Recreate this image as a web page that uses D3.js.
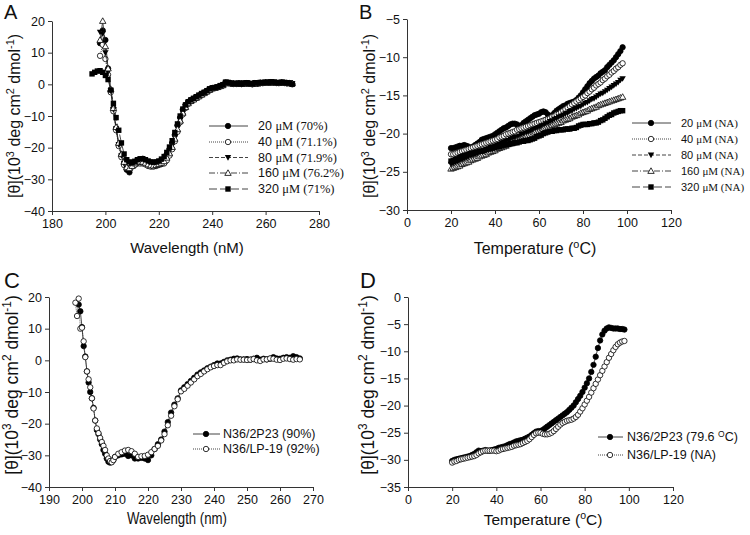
<!DOCTYPE html>
<html><head><meta charset="utf-8">
<script src="https://cdn.jsdelivr.net/npm/d3@7/dist/d3.min.js"></script>
<style>body{margin:0;background:#fff} text{font-family:"Liberation Sans",Arial,sans-serif;fill:#111}</style>
</head><body><svg id="c" width="750" height="535"></svg>
<script>
// ---------------- DATA ----------------
// Panel A: CD spectra at different concentrations
const wavelengthA = [195,196,197,198,199,200,201,202,203,204,205,206,207,208,209,210,211,212,213,214,215,216,217,218,219,220,221,222,223,224,225,226,227,228,229,230,231,232,233,234,235,236,237,238,239,240,241,242,243,244,245,246,247,248,249,250,251,252,253,254,255,256,257,258,259,260,261,262,263,264,265,266,267,268,269,270];
const a20 = [null,null,null,13,17,14,5,-2,-7.5,-14,-19,-22.5,-25,-27,-27.8,-25.5,-24.5,-24,-23.8,-23.5,-24,-25.5,-25,-25,-24.8,-24.5,-24,-23.5,-22,-20.5,-18.5,-16,-13,-10.5,-8,-6.5,-5.6,-5,-4.6,-4.1,-3.6,-3.1,-2.6,-2.2,-1.6,-1.2,-1.1,-0.9,-0.5,-0.2,0.6,0.5,0.3,0.2,0.2,0.3,0.1,0.3,0.4,0.2,0.1,0.4,0.3,0.5,0.4,0.6,0.5,0.7,0.6,0.5,0.4,0.6,0.5,0.4,0.3,0.0];
const a40 = [null,null,null,9,12.5,8,3,-2.5,-8.5,-14.5,-19.5,-23,-25.5,-26.5,-26.5,-26,-25.5,-25,-25,-25,-25.3,-25.8,-26,-26,-25.8,-25.5,-25.2,-25,-24,-22.5,-20.5,-18,-15,-12,-9.5,-7.5,-6.2,-5.4,-4.9,-4.4,-3.9,-3.4,-2.9,-2.4,-1.9,-1.4,-1.2,-1.0,-0.7,-0.4,0.2,0.4,0.2,0.1,0.1,0.2,0.1,0.2,0.3,0.2,0.0,0.3,0.2,0.4,0.4,0.5,0.5,0.6,0.5,0.4,0.4,0.5,0.4,0.3,0.4,0.2];
const a80 = [null,null,null,16.5,16,10,4,-2,-8,-14,-19,-22.5,-25,-26.5,-26.8,-25.5,-24.8,-24.3,-24,-24,-24.3,-24.8,-25.2,-25.3,-25.2,-24.8,-24.3,-23.8,-22.5,-21,-19,-16.5,-13.5,-11,-8.5,-7,-5.9,-5.2,-4.7,-4.2,-3.7,-3.2,-2.7,-2.3,-1.7,-1.3,-1.1,-0.9,-0.6,-0.3,0.4,0.5,0.3,0.2,0.2,0.3,0.2,0.3,0.3,0.2,0.1,0.3,0.3,0.5,0.4,0.5,0.6,0.6,0.5,0.5,0.5,0.5,0.5,0.4,0.4,0.2];
const a160 = [null,null,null,14,20,12,5,-1.5,-7.5,-13.5,-18.5,-22,-24.5,-26.2,-26.5,-25.8,-25,-24.6,-24.4,-24.5,-24.8,-25.3,-25.6,-25.7,-25.5,-25.2,-24.8,-24.3,-23.2,-21.8,-19.8,-17.2,-14.2,-11.5,-9,-7.2,-6,-5.3,-4.8,-4.3,-3.8,-3.3,-2.8,-2.3,-1.8,-1.3,-1.1,-0.9,-0.6,-0.3,0.3,0.4,0.3,0.2,0.1,0.2,0.2,0.2,0.3,0.2,0.1,0.3,0.2,0.4,0.5,0.5,0.5,0.6,0.6,0.5,0.4,0.5,0.4,0.4,0.3,0.3];
const a320 = [3.3,3.8,4.2,4.3,3.8,2.8,1.5,-1.8,-6,-10.5,-14.5,-18.5,-22,-23.8,-24.5,-24.8,-24.3,-23.8,-23.5,-23.5,-23.8,-24.2,-24.5,-24.6,-24.5,-24.2,-23.6,-22.8,-21.5,-19.8,-17.8,-15.2,-12.5,-10,-7.8,-6.5,-5.5,-4.9,-4.4,-3.9,-3.4,-2.9,-2.5,-2.0,-1.4,-1.1,-1.0,-0.8,-0.4,-0.1,0.7,0.6,0.4,0.3,0.3,0.4,0.3,0.4,0.5,0.3,0.2,0.5,0.4,0.6,0.5,0.7,0.6,0.8,0.7,0.6,0.5,0.7,0.6,0.5,0.4,0.1];
const legendA = ["20 |\u03bcM (70%)","40 |\u03bcM (71.1%)","80 |\u03bcM (71.9%)","160 |\u03bcM (76.2%)","320 |\u03bcM (71%)"];

// Panel B: thermal melts at different concentrations
const temperature = [20,21,22,23,24,25,26,27,28,29,30,31,32,33,34,35,36,37,38,39,40,41,42,43,44,45,46,47,48,49,50,51,52,53,54,55,56,57,58,59,60,61,62,63,64,65,66,67,68,69,70,71,72,73,74,75,76,77,78,79,80,81,82,83,84,85,86,87,88,89,90,91,92,93,94,95,96,97,98];
const b20 = [-21.9,-21.9,-21.8,-21.7,-21.6,-21.6,-21.5,-21.6,-21.7,-21.9,-21.7,-21.5,-21.3,-21.1,-20.8,-20.7,-20.6,-20.5,-20.4,-20.3,-20.1,-19.9,-19.7,-19.5,-19.3,-19.2,-19.0,-18.8,-18.7,-18.7,-18.8,-19.0,-18.9,-18.6,-18.4,-18.2,-18.0,-17.8,-17.6,-17.5,-17.4,-17.2,-17.1,-17.2,-17.5,-17.7,-17.6,-17.3,-17.0,-16.8,-16.6,-16.4,-16.3,-16.1,-16.0,-15.9,-15.8,-15.6,-15.3,-15.0,-14.6,-14.2,-13.8,-13.4,-13.1,-12.8,-12.6,-12.4,-12.1,-11.9,-11.7,-11.3,-11.0,-10.7,-10.4,-10.0,-9.6,-9.2,-8.7];
const b40 = [-22.7,-22.7,-22.6,-22.5,-22.4,-22.3,-22.2,-22.1,-22.0,-21.9,-21.8,-21.7,-21.6,-21.5,-21.4,-21.3,-21.2,-21.1,-21.0,-20.9,-20.8,-20.7,-20.5,-20.4,-20.3,-20.1,-20.0,-19.9,-19.8,-19.7,-19.5,-19.4,-19.3,-19.2,-19.1,-19.0,-18.9,-18.8,-18.7,-18.6,-18.5,-18.4,-18.3,-18.2,-18.1,-18.0,-17.8,-17.7,-17.5,-17.4,-17.2,-17.0,-16.8,-16.6,-16.4,-16.2,-16.0,-15.8,-15.6,-15.4,-15.2,-15.0,-14.7,-14.5,-14.2,-14.0,-13.7,-13.5,-13.3,-13.0,-12.8,-12.5,-12.3,-12.0,-11.8,-11.5,-11.3,-11.0,-10.8];
const b80 = [-24.0,-23.9,-23.8,-23.7,-23.5,-23.4,-23.3,-23.2,-23.0,-22.9,-22.8,-22.7,-22.6,-22.4,-22.3,-22.2,-22.1,-22.0,-21.8,-21.7,-21.6,-21.5,-21.4,-21.2,-21.1,-21.0,-20.9,-20.7,-20.6,-20.5,-20.4,-20.3,-20.1,-20.0,-19.9,-19.8,-19.7,-19.5,-19.4,-19.3,-19.2,-19.0,-18.9,-18.7,-18.6,-18.4,-18.3,-18.1,-18.0,-17.8,-17.7,-17.6,-17.4,-17.3,-17.1,-17.0,-16.8,-16.7,-16.5,-16.4,-16.2,-16.0,-15.9,-15.7,-15.5,-15.4,-15.2,-15.0,-14.8,-14.7,-14.5,-14.3,-14.1,-13.9,-13.7,-13.5,-13.3,-13.0,-12.8];
const b160 = [-24.6,-24.5,-24.4,-24.3,-24.2,-24.0,-23.9,-23.8,-23.7,-23.5,-23.4,-23.3,-23.2,-23.0,-22.9,-22.8,-22.7,-22.5,-22.4,-22.3,-22.2,-22.0,-21.9,-21.8,-21.7,-21.6,-21.4,-21.3,-21.2,-21.1,-20.9,-20.8,-20.7,-20.6,-20.4,-20.3,-20.2,-20.1,-19.9,-19.8,-19.7,-19.6,-19.4,-19.3,-19.2,-19.1,-18.9,-18.8,-18.7,-18.6,-18.5,-18.3,-18.2,-18.1,-18.0,-17.8,-17.7,-17.6,-17.5,-17.3,-17.2,-17.1,-17.0,-16.8,-16.7,-16.6,-16.5,-16.3,-16.2,-16.1,-16.0,-15.9,-15.8,-15.7,-15.6,-15.5,-15.4,-15.3,-15.2];
const b320 = [-23.6,-23.5,-23.4,-23.3,-23.1,-23.0,-22.9,-22.8,-22.7,-22.6,-22.6,-22.5,-22.4,-22.3,-22.3,-22.2,-22.1,-22.0,-22.0,-21.9,-21.8,-21.7,-21.7,-21.6,-21.5,-21.5,-21.4,-21.3,-21.3,-21.2,-21.2,-21.1,-21.0,-21.0,-20.9,-20.9,-20.8,-20.7,-20.6,-20.4,-20.3,-20.2,-20.0,-19.9,-19.8,-19.7,-19.7,-19.6,-19.6,-19.5,-19.5,-19.5,-19.4,-19.4,-19.4,-19.3,-19.3,-19.2,-19.0,-18.9,-18.8,-18.8,-18.8,-18.7,-18.7,-18.6,-18.6,-18.5,-18.3,-18.2,-18.0,-17.8,-17.6,-17.5,-17.3,-17.2,-17.1,-17.0,-17.0];
const legendB = ["20 |\u03bcM (NA)","40 |\u03bcM (NA)","80 |\u03bcM (NA)","160 |\u03bcM (NA)","320 |\u03bcM (NA)"];

// Panel C: CD spectra of two complexes
const wavelengthC = [198,198.5,199,199.5,200,200.5,201,201.5,202,202.5,203,203.5,204,204.5,205,205.5,206,206.5,207,207.5,208,208.5,209,209.5,210,211,212,213,214,215,216,217,218,219,220,221,222,223,224,225,226,227,228,229,230,231,232,233,234,235,236,237,238,239,240,241,242,243,244,245,246,247,248,249,250,251,252,253,254,255,256,257,258,259,260,261,262,263,264,265,266];
const c2P23 = [null,null,17.6,15.5,10.5,4.5,1.2,-3.5,-7,-10,-12,-15,-19,-22,-23.3,-25,-26.5,-28.3,-29.5,-31,-32,-32.3,-32,-31.5,-30.5,-30,-29.7,-29.5,-30.2,-30,-31,-31,-30.8,-31,-31.5,-30,-28,-26.5,-25,-22.5,-19.5,-16.5,-14,-12,-9.5,-8.5,-7.5,-6.5,-5.5,-4.5,-3.8,-3.2,-2.5,-2,-1.5,-1,-1,-0.5,0,0.2,0.5,0.6,0.3,0.3,0.4,0.2,0.5,0.8,0.2,0.5,0.3,0.5,1.0,0.6,0.5,0.8,1.0,0.8,1.3,1.0,0.6];
const cLP19 = [18.2,14,19.5,10,10.3,6,1,-3.5,-6,-8.5,-12,-15.2,-19,-21.5,-23,-24.5,-25.8,-27,-28.3,-30,-31,-31.8,-32.2,-31.5,-30.5,-29.5,-29,-28.5,-28.3,-28.7,-29.5,-30.5,-30.3,-30.2,-29.8,-29,-28,-27,-25.3,-23.3,-20.5,-17.5,-14.5,-12.3,-9.8,-9,-8,-7,-6,-5,-4.3,-3.5,-2.8,-2.2,-1.8,-1.5,-1.5,-0.8,-0.3,0,0,0.3,0.2,0.2,0.1,0.2,0.4,0,-0.2,0.3,0.3,0.6,0.5,0.2,0.1,0.5,0.6,0.4,0.2,0.4,0.3];
const legendC = ["N36/2P23 (90%)","N36/LP-19 (92%)"];

// Panel D: thermal melts of two complexes
const d2P23 = [-30.2,-30.0,-29.9,-29.8,-29.7,-29.6,-29.5,-29.4,-29.3,-29.1,-28.9,-28.6,-28.3,-28.4,-28.3,-28.2,-28.3,-28.3,-28.2,-28.1,-28.0,-27.8,-27.7,-27.6,-27.5,-27.3,-27.1,-27.0,-26.8,-26.6,-26.5,-26.4,-26.3,-26.1,-25.9,-25.7,-25.4,-25.1,-24.8,-24.7,-24.7,-24.5,-24.2,-23.9,-23.6,-23.3,-23.0,-22.7,-22.4,-22.1,-21.8,-21.5,-21.2,-20.8,-20.4,-20.0,-19.4,-18.8,-18.2,-17.5,-16.7,-15.9,-15.0,-13.8,-12.5,-11.0,-9.4,-8.0,-6.9,-6.2,-5.8,-5.6,-5.7,-5.8,-5.8,-5.8,-5.9,-5.9,-6.0];
const dLP19 = [-30.5,-30.3,-30.2,-30.0,-29.9,-29.8,-29.7,-29.6,-29.5,-29.4,-29.3,-29.1,-28.8,-28.6,-28.4,-28.3,-28.3,-28.3,-28.3,-28.3,-28.4,-28.3,-28.1,-28.0,-27.9,-27.8,-27.7,-27.6,-27.4,-27.3,-27.2,-27.1,-26.9,-26.7,-26.5,-26.2,-25.8,-25.4,-25.1,-25.0,-25.0,-25.2,-25.3,-25.3,-25.2,-25.0,-24.7,-24.3,-23.9,-23.5,-23.2,-23.0,-22.8,-22.7,-22.6,-22.4,-22.1,-21.7,-21.1,-20.5,-19.8,-19.1,-18.4,-17.6,-16.8,-16.0,-15.2,-14.4,-13.6,-12.8,-12.0,-11.2,-10.5,-9.8,-9.2,-8.7,-8.4,-8.2,-8.1];

// Ticks
const ticksAx = [180,200,220,240,260,280], ticksAy = [-40,-30,-20,-10,0,10,20];
const ticksBx = [0,20,40,60,80,100,120], ticksBy = [-30,-25,-20,-15,-10,-5];
const ticksCx = [190,200,210,220,230,240,250,260,270], ticksCy = [-40,-30,-20,-10,0,10,20];
const ticksDx = [0,20,40,60,80,100,120], ticksDy = [-35,-30,-25,-20,-15,-10,-5,0];

// ---------------- DRAWING ----------------
const svg = d3.select('#c');
const AX = '#333';

function marker(g, type, cx, cy) {
  const s = 2.7;
  if (type === 'circleF' || type === 'circleO') {
    g.append('circle').attr('cx', cx).attr('cy', cy).attr('r', s)
      .attr('fill', type === 'circleF' ? '#000' : '#fff').attr('stroke', '#000').attr('stroke-width', 0.8);
  } else if (type === 'squareF') {
    g.append('rect').attr('x', cx - s).attr('y', cy - s).attr('width', 2 * s).attr('height', 2 * s).attr('fill', '#000');
  } else if (type === 'triDownF') {
    g.append('path').attr('d', `M${cx - 3.2},${cy - 2.4}L${cx + 3.2},${cy - 2.4}L${cx},${cy + 3.2}Z`).attr('fill', '#000');
  } else if (type === 'triUpO') {
    g.append('path').attr('d', `M${cx - 3.2},${cy + 2.4}L${cx + 3.2},${cy + 2.4}L${cx},${cy - 3.2}Z`)
      .attr('fill', '#fff').attr('stroke', '#000').attr('stroke-width', 0.8);
  }
}

function rich(t, parts, fs) {
  parts.forEach(p => {
    if (p[1] === 'sup') {
      t.append('tspan').attr('font-size', fs * 0.68).attr('dy', -fs * 0.38).text(p[0]);
    } else if (p[1] === 'after') {
      t.append('tspan').attr('dy', fs * 0.38).text(p[0]);
    } else {
      t.append('tspan').text(p[0]);
    }
  });
}
const yTitleParts = [['[\u03b8](10'], ['3', 'sup'], [' deg cm', 'after'], ['2', 'sup'], [' dmol', 'after'], ['-1', 'sup'], [')', 'after']];
const tempParts = [['Temperature ('], ['o', 'sup'], ['C)', 'after']];

function panel(o) {
  const x = d3.scaleLinear().domain(o.xDomain).range(o.xRange);
  const y = d3.scaleLinear().domain(o.yDomain).range(o.yRange);
  const g = svg.append('g');
  const styleAxis = sel => {
    sel.select('.domain').attr('stroke', AX);
    sel.selectAll('.tick line').attr('stroke', AX);
    sel.selectAll('.tick text').attr('font-size', 12.5).attr('fill', '#111').attr('font-family', '"Liberation Sans",Arial,sans-serif');
  };
  g.append('g').attr('transform', `translate(0,${o.yRange[0]})`)
    .call(d3.axisBottom(x).tickValues(o.xTicks).tickSize(4).tickSizeOuter(0).tickPadding(4)).call(styleAxis);
  g.append('g').attr('transform', `translate(${o.xRange[0]},0)`)
    .call(d3.axisLeft(y).tickValues(o.yTicks).tickSize(4).tickSizeOuter(0).tickPadding(3)).call(styleAxis);

  // series
  o.series.forEach(s => {
    const pts = o.xs.map((xv, i) => [xv, s.values[i]]).filter(p => p[1] !== null && p[1] !== undefined);
    g.append('path').datum(pts)
      .attr('d', d3.line().x(p => x(p[0])).y(p => y(p[1])))
      .attr('fill', 'none').attr('stroke', '#222').attr('stroke-width', 0.8)
      .attr('stroke-dasharray', s.dash || null);
    const mg = g.append('g');
    pts.forEach(p => marker(mg, s.marker, x(p[0]), y(p[1])));
  });

  // legend
  o.series.forEach((s, i) => {
    const ly = o.legend.y[i];
    g.append('line').attr('x1', o.legend.x1).attr('x2', o.legend.x2).attr('y1', ly).attr('y2', ly)
      .attr('stroke', '#444').attr('stroke-width', 1).attr('stroke-dasharray', s.dash || null);
    marker(g, s.marker, o.legend.mx, ly);
    const t = g.append('text').attr('x', o.legend.tx).attr('y', ly + 4.3).attr('font-size', o.legend.fs);
    if (s.label.indexOf('|') >= 0) {
      const [a, b] = s.label.split('|');
      t.append('tspan').text(a);
      t.append('tspan').attr('font-family', '"Liberation Serif","Times New Roman",serif').text(b);
    } else if (s.labelParts) {
      rich(t, s.labelParts, o.legend.fs);
    } else {
      t.text(s.label);
    }
  });

  // titles
  const xt = g.append('text').attr('x', o.xTitle.x).attr('y', o.xTitle.y).attr('text-anchor', 'middle')
    .attr('font-size', o.xTitle.fs);
  if (o.xTitle.len) xt.attr('textLength', o.xTitle.len).attr('lengthAdjust', 'spacingAndGlyphs');
  if (o.xTitle.parts) rich(xt, o.xTitle.parts, o.xTitle.fs); else xt.text(o.xTitle.text);

  const yt = g.append('text').attr('transform', `translate(${o.yTitle.x},${o.yTitle.y}) rotate(-90)`)
    .attr('text-anchor', 'middle').attr('font-size', o.yTitle.fs);
  rich(yt, yTitleParts, o.yTitle.fs);

  g.append('text').attr('x', o.letter.x).attr('y', o.letter.y).attr('font-size', o.letter.fs).text(o.letter.t);
}

const dashes = [null, '1,1', '4,2', '6,2,1,2', '8,3'];
const markersAB = ['circleF', 'circleO', 'triDownF', 'triUpO', 'squareF'];

panel({
  xDomain: [180, 280], xRange: [52, 319], yDomain: [-40, 20], yRange: [211, 21],
  xTicks: ticksAx, yTicks: ticksAy, xs: wavelengthA,
  series: [a20, a40, a80, a160, a320].map((v, i) => ({ values: v, marker: markersAB[i], dash: dashes[i], label: legendA[i] })),
  legend: { y: [126, 142, 157.5, 173, 189], x1: 209, x2: 248, mx: 228, tx: 258, fs: 12.5 },
  xTitle: { text: 'Wavelength (nM)', x: 187, y: 253, fs: 15 },
  yTitle: { x: 20, y: 116, fs: 16 },
  letter: { t: 'A', x: 4, y: 19, fs: 20 }
});

panel({
  xDomain: [0, 120], xRange: [407, 671], yDomain: [-30, -5], yRange: [210, 19],
  xTicks: ticksBx, yTicks: ticksBy, xs: temperature,
  series: [b20, b40, b80, b160, b320].map((v, i) => ({ values: v, marker: markersAB[i], dash: dashes[i], label: legendB[i] })),
  legend: { y: [123, 139, 155, 171, 187], x1: 632, x2: 671, mx: 651, tx: 681, fs: 11 },
  xTitle: { parts: tempParts, x: 535, y: 254, fs: 16 },
  yTitle: { x: 375, y: 116, fs: 16 },
  letter: { t: 'B', x: 359, y: 19, fs: 20 }
});

panel({
  xDomain: [190, 270], xRange: [49, 313], yDomain: [-40, 20], yRange: [487, 297],
  xTicks: ticksCx, yTicks: ticksCy, xs: wavelengthC,
  series: [
    { values: c2P23, marker: 'circleF', dash: null, label: legendC[0] },
    { values: cLP19, marker: 'circleO', dash: '1,1', label: legendC[1] }
  ],
  legend: { y: [434, 449], x1: 193, x2: 220, mx: 206, tx: 223, fs: 12.5 },
  xTitle: { text: 'Wavelength (nm)', x: 177, y: 524, fs: 16, len: 100 },
  yTitle: { x: 18, y: 385, fs: 17.5 },
  letter: { t: 'C', x: 4, y: 288, fs: 22 }
});

panel({
  xDomain: [0, 120], xRange: [408, 673], yDomain: [-35, 0], yRange: [487, 297],
  xTicks: ticksDx, yTicks: ticksDy, xs: temperature,
  series: [
    { values: d2P23, marker: 'circleF', dash: null, label: 'N36/2P23 (79.6 \u00b0C)', labelParts: [['N36/2P23 (79.6 '], ['O', 'sup'], ['C)', 'after']] },
    { values: dLP19, marker: 'circleO', dash: '1,1', label: 'N36/LP-19 (NA)' }
  ],
  legend: { y: [437, 455], x1: 598, x2: 623, mx: 610, tx: 627, fs: 12.5 },
  xTitle: { parts: tempParts, x: 543, y: 525, fs: 15.5 },
  yTitle: { x: 374, y: 385, fs: 17.5 },
  letter: { t: 'D', x: 360, y: 288, fs: 22 }
});
</script></body></html>
